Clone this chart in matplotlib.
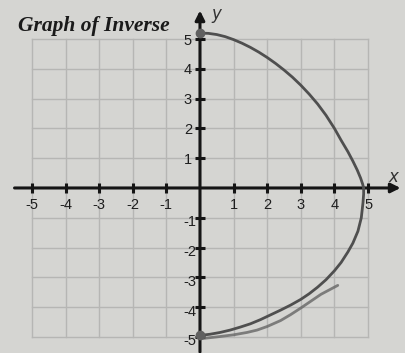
import matplotlib.pyplot as plt

# hand-sketched inverse curve, read as (x, y) pairs
upper_x = [0.0, 0.25, 0.5, 0.75, 1.0, 1.25, 1.5, 1.75, 2.0, 2.25, 2.5, 2.75,
           3.0, 3.25, 3.5, 3.75, 4.0, 4.2, 4.4, 4.55, 4.68, 4.78, 4.84, 4.87]
upper_y = [5.2, 5.19, 5.15, 5.08, 4.98, 4.86, 4.72, 4.56, 4.38, 4.18, 3.96, 3.72,
           3.45, 3.15, 2.82, 2.44, 2.0, 1.6, 1.22, 0.9, 0.6, 0.33, 0.13, 0.0]
lower_x = [4.87, 4.87, 4.85, 4.8, 4.7, 4.55, 4.4, 4.2, 4.0, 3.75, 3.5, 3.25,
           3.0, 2.7, 2.4, 2.1, 1.8, 1.5, 1.2, 0.9, 0.6, 0.3, 0.0]
lower_y = [0.0, -0.2, -0.5, -1.0, -1.45, -1.85, -2.15, -2.5, -2.78, -3.08, -3.33, -3.55,
           -3.74, -3.93, -4.1, -4.26, -4.42, -4.56, -4.67, -4.77, -4.85, -4.91, -4.95]
# second pencil stroke along the bottom
stroke_x = [0.1, 0.5, 1.0, 1.4, 1.7, 2.0, 2.4, 2.7, 3.0, 3.3, 3.6, 3.85, 4.1]
stroke_y = [-5.05, -5.0, -4.93, -4.85, -4.77, -4.65, -4.45, -4.25, -4.03, -3.8,
            -3.57, -3.42, -3.27]

ticks = [-5, -4, -3, -2, -1, 1, 2, 3, 4, 5]

bg = '#d5d5d2'
fig = plt.figure(figsize=(4.06, 3.53), dpi=100, facecolor=bg)
ax = fig.add_axes([0, 0, 1, 1])
ax.set_facecolor(bg)
ax.set_xlim(-5.95, 6.13)
ax.set_ylim(-5.54, 6.31)
ax.axis('off')

# grid
for g in range(-5, 6):
    ax.plot([g, g], [-5, 5], color='#b6b6b4', lw=1.0, zorder=1)
    ax.plot([-5, 5], [g, g], color='#b6b6b4', lw=1.0, zorder=1)

# axes with arrows
ax.annotate('', xy=(6.05, 0), xytext=(-5.6, 0),
            arrowprops=dict(arrowstyle='-|>', color='#151515', lw=2.2,
                            mutation_scale=14), zorder=3)
ax.annotate('', xy=(0, 6.05), xytext=(0, -5.6),
            arrowprops=dict(arrowstyle='-|>', color='#151515', lw=2.2,
                            mutation_scale=14), zorder=3)

ax.plot(ticks, [0] * len(ticks), ls='none', marker='|', ms=7, mew=2.2,
        color='#151515', zorder=3)
ax.plot([0] * len(ticks), ticks, ls='none', marker='_', ms=7, mew=2.2,
        color='#151515', zorder=3)

lab = dict(fontsize=10.5, family='Liberation Sans', color='#1e1e1e')
for t in ticks:
    ax.text(t, -0.57, str(t), ha='center', va='center', **lab)
    if t > 0:
        ax.text(-0.36, t - 0.05, str(t), ha='center', va='center', **lab)
    else:
        ax.text(-0.1, t - 0.15, str(t), ha='right', va='center', **lab)

ax.text(5.75, 0.38, 'x', fontsize=12, style='italic', color='#333333',
        family='DejaVu Sans', ha='center', va='center')
ax.text(0.5, 5.85, 'y', fontsize=12, style='italic', color='#333333',
        family='DejaVu Sans', ha='center', va='center')

ax.text(-5.4, 5.45, 'Graph of Inverse', fontsize=15.5, weight='bold',
        style='italic', family='Liberation Serif', color='#1a1a1a',
        ha='left', va='center')

# the curve
curve = '#4f4f4f'
ax.plot(upper_x, upper_y, color=curve, lw=2.0, solid_capstyle='round',
        solid_joinstyle='round', zorder=4)
ax.plot(lower_x, lower_y, color=curve, lw=2.0, solid_capstyle='round',
        solid_joinstyle='round', zorder=4)
ax.plot(stroke_x, stroke_y, color='#666666', lw=2.0, alpha=0.8,
        solid_capstyle='round', solid_joinstyle='round', zorder=4)
ax.plot([upper_x[0], lower_x[-1]], [upper_y[0], lower_y[-1]], ls='none',
        marker='o', ms=6, color='#606060', zorder=5)

plt.savefig('out.png', dpi=100, facecolor=bg)
